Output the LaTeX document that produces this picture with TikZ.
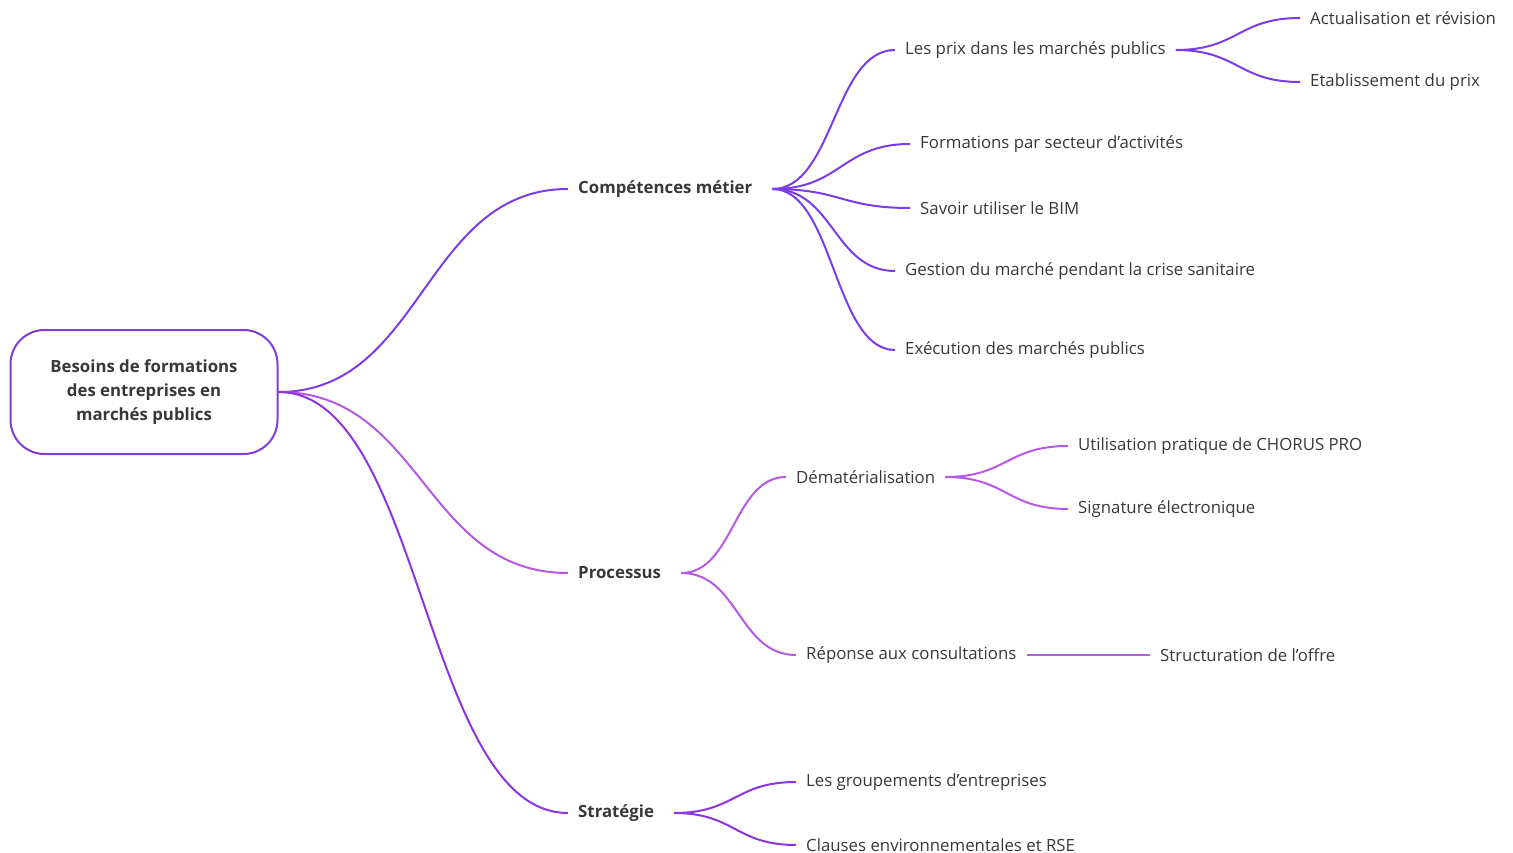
\documentclass[tikz,border=0pt]{standalone}
\usepackage{fontspec}
\usetikzlibrary{calc}
\setmainfont{Open Sans}
\definecolor{txtgray}{RGB}{56,56,56}
\definecolor{compc}{RGB}{122,62,232}
\definecolor{procc}{RGB}{182,88,232}
\definecolor{stratc}{RGB}{142,52,222}
\definecolor{rootc}{RGB}{125,62,215}
\tikzset{
  branch/.style={to path={let \p1=(\tikztostart), \p2=(\tikztotarget.west) in
    .. controls ({(\x1+\x2)/2},\y1) and ({(\x1+\x2)/2},\y2) .. (\p2) \tikztonodes}},
  headfont/.style={font=\fontsize{16.8}{24}\selectfont\bfseries}
}

\begin{document}
\begin{tikzpicture}[x=1pt,y=-1pt,font=\fontsize{16.8}{24}\selectfont,text=txtgray]

        \useasboundingbox (0,0) rectangle (1513,853);

        \begin{scope}[every node/.style={anchor=west,inner xsep=10pt,inner ysep=2pt}]
          \node[draw=rootc,line width=2pt,rounded corners=34pt,anchor=center,
                minimum width=267pt,minimum height=124pt,align=center,headfont] (root) at (144,392)
                {Besoins de formations\\des entreprises en\\marchés publics};
          \node[headfont] (comp)  at (568,189) {Compétences métier};
          \node[headfont] (proc)  at (568,573) {Processus};
          \node[headfont] (strat) at (568,813) {Stratégie};
          \node (prix)   at (895,50)   {Les prix dans les marchés publics};
          \node (form)   at (910,144)  {Formations par secteur d’activités};
          \node (bim)    at (910,208)  {Savoir utiliser le BIM};
          \node (gest)   at (895,271)  {Gestion du marché pendant la crise sanitaire};
          \node (exec)   at (895,350)  {Exécution des marchés publics};
          \node (actu)   at (1300,18)  {Actualisation et révision};
          \node (etab)   at (1300,82)  {Etablissement du prix};
          \node (demat)  at (786,477)  {Dématérialisation};
          \node (repo)   at (796,655)  {Réponse aux consultations};
          \node (chorus) at (1068,446) {Utilisation pratique de CHORUS PRO};
          \node (sign)   at (1068,509) {Signature électronique};
          \node (struct) at (1150,655) {Structuration de l’offre};
          \node (group)  at (796,782)  {Les groupements d’entreprises};
          \node (claus)  at (796,845)  {Clauses environnementales et RSE};
        \end{scope}

        \begin{scope}[every edge/.style={draw,line width=2pt,branch}]
          \path (root.east) edge[compc]  (comp);
          \path (root.east) edge[procc]  (proc);
          \path (root.east) edge[stratc] (strat);

          \path ([xshift=10pt]comp.east) edge[compc] (prix);
          \path ([xshift=10pt]comp.east) edge[compc] (form);
          \path ([xshift=10pt]comp.east) edge[compc] (bim);
          \path ([xshift=10pt]comp.east) edge[compc] (gest);
          \path ([xshift=10pt]comp.east) edge[compc] (exec);
          \path (prix.east) edge[compc] (actu);
          \path (prix.east) edge[compc] (etab);

          \path ([xshift=10pt]proc.east) edge[procc] (demat);
          \path ([xshift=10pt]proc.east) edge[procc] (repo);
          \path (demat.east) edge[procc] (chorus);
          \path (demat.east) edge[procc] (sign);
          \path (repo.east)  edge[procc] (struct);

          \path ([xshift=10pt]strat.east) edge[stratc] (group);
          \path ([xshift=10pt]strat.east) edge[stratc] (claus);
        \end{scope}

      \end{tikzpicture}
\end{document}
